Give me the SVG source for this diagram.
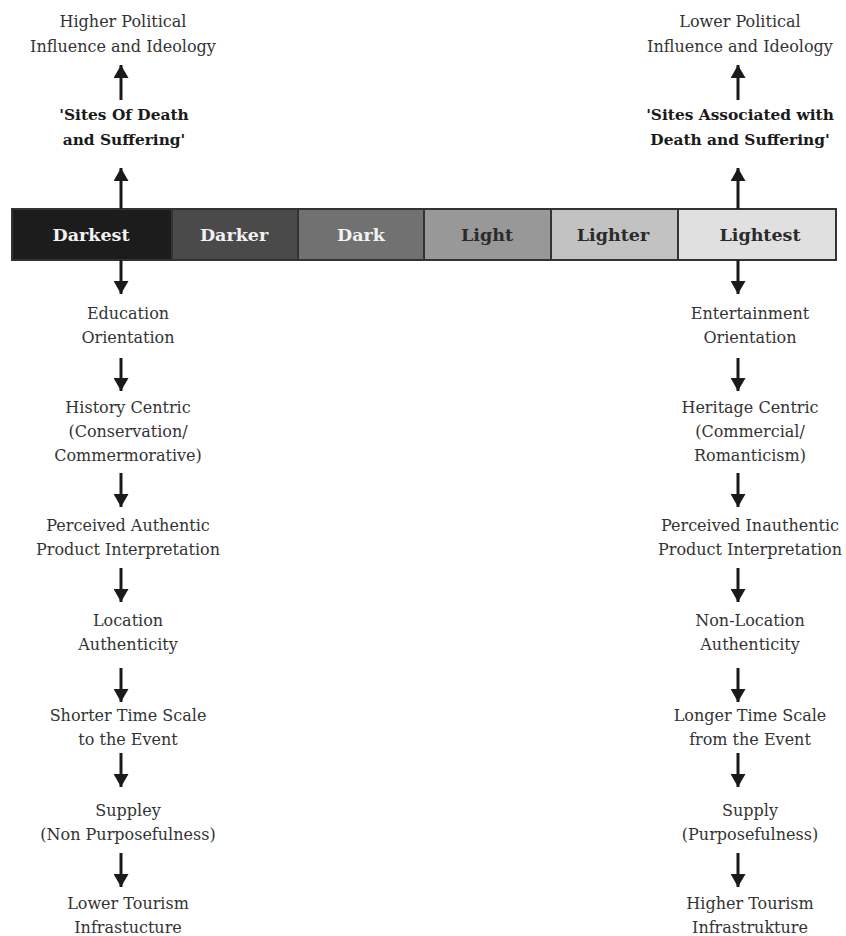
<svg xmlns="http://www.w3.org/2000/svg" width="846" height="936" viewBox="0 0 846 936">
<defs>
<marker id="ah" markerUnits="userSpaceOnUse" markerWidth="13" markerHeight="15" viewBox="0 0 13 15" refX="13" refY="7.5" orient="auto">
<path d="M0,0 L13,7.5 L0,15 z" fill="#1a1a1a"/>
</marker>
<style>
.t{font-family:"DejaVu Serif","Liberation Serif",serif;font-size:16px;fill:#333;text-anchor:middle}
.b{font-family:"DejaVu Serif","Liberation Serif",serif;font-size:15.4px;font-weight:bold;fill:#1a1a1a;text-anchor:middle}
.bl{font-family:"DejaVu Serif","Liberation Serif",serif;font-size:17.5px;font-weight:bold;text-anchor:middle}
.seg{stroke:#333;stroke-width:2}
.c{stroke:#1a1a1a;stroke-width:3;fill:none;marker-end:url(#ah)}
</style>
</defs>
<rect width="846" height="936" fill="#fff"/>
<g id="bar">
<g id="darkest"><rect class="seg" x="12" y="209" width="160" height="51" fill="#1c1c1c"/><text class="bl" x="91" y="241" fill="#f2f2f2">Darkest</text></g>
<g id="darker"><rect class="seg" x="172" y="209" width="126" height="51" fill="#4a4a4a"/><text class="bl" x="234" y="241" fill="#f2f2f2">Darker</text></g>
<g id="dark"><rect class="seg" x="298" y="209" width="126" height="51" fill="#717171"/><text class="bl" x="361" y="241" fill="#f2f2f2">Dark</text></g>
<g id="light"><rect class="seg" x="424" y="209" width="127" height="51" fill="#989898"/><text class="bl" x="487" y="241" fill="#2a2a2a">Light</text></g>
<g id="lighter"><rect class="seg" x="551" y="209" width="127" height="51" fill="#c2c2c2"/><text class="bl" x="613" y="241" fill="#2a2a2a">Lighter</text></g>
<g id="lightest"><rect class="seg" x="678" y="209" width="158" height="51" fill="#e0e0e0"/><text class="bl" x="760" y="241" fill="#2a2a2a">Lightest</text></g>
</g>
<g id="connectors">
<line class="c" x1="121" y1="100" x2="121" y2="65"/>
<line class="c" x1="121" y1="209" x2="121" y2="168"/>
<line class="c" x1="121" y1="260" x2="121" y2="294"/>
<line class="c" x1="121" y1="358" x2="121" y2="391"/>
<line class="c" x1="121" y1="473" x2="121" y2="507"/>
<line class="c" x1="121" y1="568" x2="121" y2="602"/>
<line class="c" x1="121" y1="668" x2="121" y2="702"/>
<line class="c" x1="121" y1="753" x2="121" y2="787"/>
<line class="c" x1="121" y1="853" x2="121" y2="887"/>
<line class="c" x1="738" y1="100" x2="738" y2="65"/>
<line class="c" x1="738" y1="209" x2="738" y2="168"/>
<line class="c" x1="738" y1="260" x2="738" y2="294"/>
<line class="c" x1="738" y1="358" x2="738" y2="391"/>
<line class="c" x1="738" y1="473" x2="738" y2="507"/>
<line class="c" x1="738" y1="568" x2="738" y2="602"/>
<line class="c" x1="738" y1="668" x2="738" y2="702"/>
<line class="c" x1="738" y1="753" x2="738" y2="787"/>
<line class="c" x1="738" y1="853" x2="738" y2="887"/>
</g>
<g id="higher-political"><text class="t" x="123" y="27">Higher Political</text><text class="t" x="123" y="52">Influence and Ideology</text></g>
<g id="sites-of-death"><text class="b" x="124" y="120">'Sites Of Death</text><text class="b" x="124" y="145">and Suffering'</text></g>
<g id="education"><text class="t" x="128" y="319">Education</text><text class="t" x="128" y="343">Orientation</text></g>
<g id="history"><text class="t" x="128" y="413">History Centric</text><text class="t" x="128" y="437">(Conservation/</text><text class="t" x="128" y="461">Commermorative)</text></g>
<g id="perceived-authentic"><text class="t" x="128" y="531">Perceived Authentic</text><text class="t" x="128" y="555">Product Interpretation</text></g>
<g id="location"><text class="t" x="128" y="626">Location</text><text class="t" x="128" y="650">Authenticity</text></g>
<g id="shorter"><text class="t" x="128" y="721">Shorter Time Scale</text><text class="t" x="128" y="745">to the Event</text></g>
<g id="suppley"><text class="t" x="128" y="816">Suppley</text><text class="t" x="128" y="840">(Non Purposefulness)</text></g>
<g id="lower-tourism"><text class="t" x="128" y="909">Lower Tourism</text><text class="t" x="128" y="933">Infrastucture</text></g>
<g id="lower-political"><text class="t" x="740" y="27">Lower Political</text><text class="t" x="740" y="52">Influence and Ideology</text></g>
<g id="sites-associated"><text class="b" x="740" y="120">'Sites Associated with</text><text class="b" x="740" y="145">Death and Suffering'</text></g>
<g id="entertainment"><text class="t" x="750" y="319">Entertainment</text><text class="t" x="750" y="343">Orientation</text></g>
<g id="heritage"><text class="t" x="750" y="413">Heritage Centric</text><text class="t" x="750" y="437">(Commercial/</text><text class="t" x="750" y="461">Romanticism)</text></g>
<g id="perceived-inauthentic"><text class="t" x="750" y="531">Perceived Inauthentic</text><text class="t" x="750" y="555">Product Interpretation</text></g>
<g id="non-location"><text class="t" x="750" y="626">Non-Location</text><text class="t" x="750" y="650">Authenticity</text></g>
<g id="longer"><text class="t" x="750" y="721">Longer Time Scale</text><text class="t" x="750" y="745">from the Event</text></g>
<g id="supply"><text class="t" x="750" y="816">Supply</text><text class="t" x="750" y="840">(Purposefulness)</text></g>
<g id="higher-tourism"><text class="t" x="750" y="909">Higher Tourism</text><text class="t" x="750" y="933">Infrastrukture</text></g>
</svg>
